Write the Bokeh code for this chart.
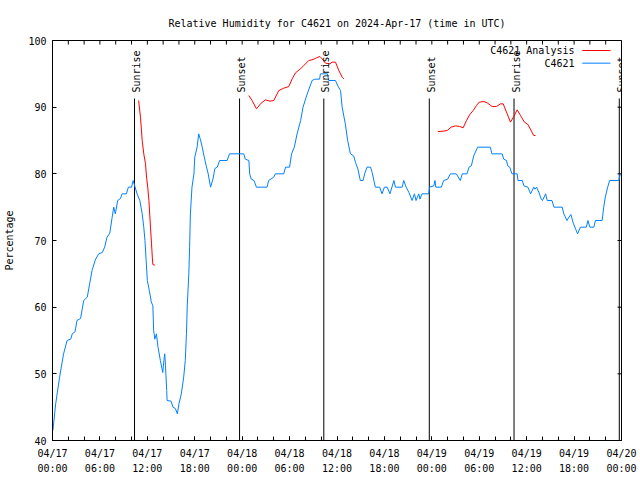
import math
from bokeh.plotting import figure
from bokeh.models import (Range1d, FixedTicker, LabelSet, Label, Arrow, ColumnDataSource)
from bokeh.core.properties import value
from bokeh.embed import file_html
from bokeh.resources import INLINE

# ---------------- data (hours since 2024-04-17 00:00 UTC) ----------------
obs_hours = [0.05, 0.4, 0.9, 1.4, 1.85, 2.3, 2.5, 2.85, 3.1, 3.55, 3.95, 4.4, 4.7, 5.0, 5.45, 5.85,
             6.3, 6.6, 6.9, 7.25, 7.55, 7.75, 7.95, 8.25, 8.6, 8.8, 9.35, 9.6, 10.0, 10.2, 10.4,
             10.7, 11.05, 11.35, 11.55, 11.7, 11.85, 12.0, 12.25, 12.5, 12.7, 12.8, 12.95, 13.15,
             13.35, 13.65, 13.95, 14.1, 14.2, 14.3, 14.45, 14.5, 15.0, 15.25, 15.55, 15.8, 16.0,
             16.3, 16.6, 16.8, 16.95, 17.05, 17.25, 17.35, 17.45, 17.65, 17.9, 18.0, 18.3, 18.5,
             18.7, 18.95, 19.15, 19.45, 19.7, 20.0, 20.3, 20.55, 20.85, 21.15, 22.1, 22.4, 24.2,
             24.4, 24.85, 24.95, 25.15, 25.5, 25.8, 27.15, 27.35, 28.0, 28.2, 29.25, 29.5, 30.0,
             30.25, 30.6, 30.95, 31.4, 31.7, 32.15, 32.45, 32.85, 33.2, 33.8, 33.9, 34.8, 34.95,
             35.8, 36.1, 36.45, 36.65, 37.05, 37.35, 37.7, 38.1, 38.35, 38.65, 38.95, 39.3, 39.5,
             39.8, 40.25, 40.45, 40.85, 41.4, 41.7, 42.0, 42.35, 42.7, 43.2, 43.4, 44.25, 44.45,
             44.75, 45.1, 45.5, 45.8, 46.0, 46.35, 46.5, 46.75, 47.6, 47.7, 48.25, 48.4, 48.5,
             49.2, 49.5, 50.0, 50.35, 51.1, 51.6, 51.85, 52.45, 52.7, 53.0, 53.3, 53.8, 55.4,
             55.6, 56.9, 57.1, 57.45, 57.6, 57.85, 58.15, 58.8, 58.9, 59.45, 59.65, 60.15, 60.5,
             60.9, 61.05, 61.25, 61.55, 61.85, 62.0, 62.4, 62.6, 63.2, 63.45, 64.5, 64.7, 65.1,
             65.35, 65.6, 65.9, 66.2, 66.45, 66.8, 67.55, 67.75, 68.0, 68.5, 68.7, 69.55, 69.75,
             69.95, 70.25, 70.5, 71.65, 71.85]
obs_values = [41.5, 45.5, 49.5, 53, 55, 55.2, 56, 56.3, 58, 58.3, 61, 61.5, 63.5, 65.5, 67.2, 68,
              68.2, 69, 70.5, 71.1, 73.5, 75, 74, 76, 76.3, 77, 77, 78, 78, 79, 78.2,
              77, 76, 74, 72, 70, 67, 64, 62.5, 60.8, 60.2, 56.5, 55.2, 56,
              54, 52, 50.2, 52, 53, 51.2, 47.5, 46, 45.9, 45, 44.8, 44, 45.5,
              47, 49.5, 52, 56, 60.2, 65, 69, 74, 78, 80, 82.5, 84, 86,
              85.2, 84, 82.8, 81.2, 80, 78, 79.2, 80.8, 81, 82, 82, 83, 83,
              82.2, 82, 80, 79.2, 79, 78, 78, 79, 79.5, 80, 80, 81, 81,
              83, 84, 86, 88, 90, 91.7, 92.7, 94, 94.2, 94.2, 95, 95, 94,
              94, 93.2, 92.5, 90, 87.5, 85, 83, 82.7, 81.7, 80.7, 79, 79, 80,
              81, 81, 80.2, 78, 78, 77, 78, 78, 77, 79, 78, 78, 79,
              78, 77.2, 76, 77, 76, 77, 76.2, 77, 77, 78, 78.2, 79, 78,
              78, 79, 79.2, 80, 80, 79, 80, 80, 81, 81.2, 82.7, 84, 84,
              83, 83, 82.2, 82, 81.2, 81, 80, 80, 79, 79, 78.2, 78, 77,
              78, 77.7, 78, 77.2, 76.2, 76, 77, 76, 76, 75, 75, 74, 73,
              73.5, 73.9, 72.6, 71.7, 71, 72, 72, 73, 72, 72, 73, 73, 75,
              76.5, 78, 79, 79, 80]

nan = float("nan")
ana_hours = [10.9, 11.13, 11.35, 11.55, 11.77, 11.9, 12.05, 12.2, 12.4, 12.53, 12.63, 12.7, 12.95,
             nan,
             24.84, 25.26, 25.81, 26.4, 26.95, 27.5, 28.0, 28.64, 29.27, 29.9, 30.33, 30.75, 31.38,
             31.8, 32.43, 32.98, 33.4, 33.83, 34.12, 34.54, 35.09, 35.39, 35.81, 36.23, 36.65, 36.86,
             nan,
             48.76, 49.43, 49.94, 50.45, 50.99, 51.54, 51.96, 52.39, 52.8, 53.23, 53.65, 53.99, 54.57,
             55.0, 55.63, 56.18, 56.69, 57.03, 57.45, 57.95, 58.37, 58.8, 59.22, 59.72, 60.15, 60.61,
             60.9, 61.12]
ana_values = [91, 88.5, 85, 83, 81.5, 79.5, 78, 76, 72, 69.5, 67.5, 66.4, 66.3,
              nan,
              91.75, 91, 89.75, 90.6, 91.1, 90.9, 91, 92.5, 92.85, 93.1, 94.25, 95.15, 95.75,
              96.25, 97, 97.15, 97.4, 97.6, 97.25, 96.6, 96.5, 96.75, 96.75, 95.5, 94.5, 94.25,
              nan,
              86.35, 86.4, 86.5, 87, 87.2, 87.1, 86.9, 88, 88.9, 89.5, 90.25, 90.75, 90.85,
              90.65, 90.1, 90.1, 90.5, 90.5, 89.25, 87.75, 88.6, 89.6, 88.75, 87.75, 87.4, 86.4,
              85.75, 85.75]

sun_hours = [10.38, 23.67, 34.33, 47.68, 58.4, 71.72]
sun_labels = ["Sunrise", "Sunset", "Sunrise", "Sunset", "Sunrise", "Sunset"]

x_ticks = [0, 6, 12, 18, 24, 30, 36, 42, 48, 54, 60, 66, 72]
x_tick_labels = ["04/17\n00:00", "04/17\n06:00", "04/17\n12:00", "04/17\n18:00",
                 "04/18\n00:00", "04/18\n06:00", "04/18\n12:00", "04/18\n18:00",
                 "04/19\n00:00", "04/19\n06:00", "04/19\n12:00", "04/19\n18:00",
                 "04/20\n00:00"]
x_minor = list(range(0, 73, 2))
y_ticks = [40, 50, 60, 70, 80, 90, 100]

series_names = ["C4621 Analysis", "C4621"]
title_text = "Relative Humidity for C4621 on 2024-Apr-17 (time in UTC)"

# ---------------- style ----------------
FONT = "DejaVu Sans Mono"
FS = "10px"
RED = "#ff0000"
BLUE = "#0080ff"
SUN_TOP = 91.3   # top of sunrise/sunset markers (value units)
X0, X1, Y0, Y1 = 0, 72, 40, 100

p = figure(width=640, height=480, x_range=Range1d(X0, X1), y_range=Range1d(Y0, Y1),
           output_backend="svg", toolbar_location=None,
           min_border_left=52, min_border_right=19, min_border_top=40, min_border_bottom=40)
p.background_fill_color = "white"
p.border_fill_color = "white"
p.outline_line_color = "black"
p.outline_line_width = 1
p.xgrid.visible = False
p.ygrid.visible = False

p.title.text = title_text
p.title.align = "center"
p.title.text_font = FONT
p.title.text_font_size = FS
p.title.text_font_style = "normal"
p.title.text_color = "black"
p.title.standoff = 24

xt = FixedTicker(ticks=x_ticks, minor_ticks=x_minor)
yt = FixedTicker(ticks=y_ticks, minor_ticks=[])


def style_axis(ax, ticker):
    ax.ticker = ticker
    ax.axis_line_color = "black"
    ax.major_tick_line_color = "black"
    ax.minor_tick_line_color = "black"
    ax.major_tick_in = 4
    ax.major_tick_out = 0
    ax.minor_tick_in = 4
    ax.minor_tick_out = 0
    ax.major_label_text_font = FONT
    ax.major_label_text_font_size = FS
    ax.major_label_text_color = "black"


style_axis(p.xaxis[0], xt)
p.xaxis[0].major_label_overrides = dict(zip(x_ticks, x_tick_labels))
p.xaxis[0].major_label_standoff = 7
p.xaxis[0].major_label_text_line_height = 1.4

style_axis(p.yaxis[0], yt)
p.yaxis[0].major_label_standoff = 6
p.yaxis[0].axis_label = "Percentage"
p.yaxis[0].axis_label_text_font = FONT
p.yaxis[0].axis_label_text_font_size = FS
p.yaxis[0].axis_label_text_font_style = "normal"
p.yaxis[0].axis_label_text_color = "black"
p.yaxis[0].axis_label_standoff = 10

# mirrored tick marks on top and right edges (half of each dash is clipped by the frame)
p.scatter(x=x_minor, y=[Y1] * len(x_minor), marker="dash", size=8, angle=math.pi / 2,
          line_color="black", line_width=1)
p.scatter(x=[X1] * len(y_ticks), y=y_ticks, marker="dash", size=8,
          line_color="black", line_width=1)

# sunrise / sunset markers
p.segment(x0=sun_hours, y0=[Y0] * len(sun_hours), x1=sun_hours, y1=[SUN_TOP] * len(sun_hours),
          line_color="black", line_width=1)
sun_src = ColumnDataSource(dict(x=sun_hours, text=sun_labels))
p.add_layout(LabelSet(x="x", y=SUN_TOP, text="text", source=sun_src, angle=math.pi / 2,
                      text_align="left", text_baseline="middle", text_font=value(FONT),
                      text_font_size=value(FS), text_color="black", x_offset=2, y_offset=6))

# series
p.line(obs_hours, obs_values, line_color=BLUE, line_width=1)
p.line(ana_hours, ana_values, line_color=RED, line_width=1)

# gnuplot-style key (text then sample line), placed in value units
KEY_TEXT_X = 66.05
KEY_LINE_X0, KEY_LINE_X1 = 67.03, 70.6
KEY_ROWS_Y = [98.5, 96.6]
for name, col, ky in zip(series_names, [RED, BLUE], KEY_ROWS_Y):
    p.add_layout(Label(x=KEY_TEXT_X, y=ky, text=name, text_align="right",
                       text_baseline="middle", text_font=FONT, text_font_size=FS,
                       text_color="black"))
    p.add_layout(Arrow(end=None, x_start=KEY_LINE_X0, y_start=ky, x_end=KEY_LINE_X1, y_end=ky,
                       line_color=col, line_width=1))

open("out.html", "w").write(file_html(p, INLINE))
